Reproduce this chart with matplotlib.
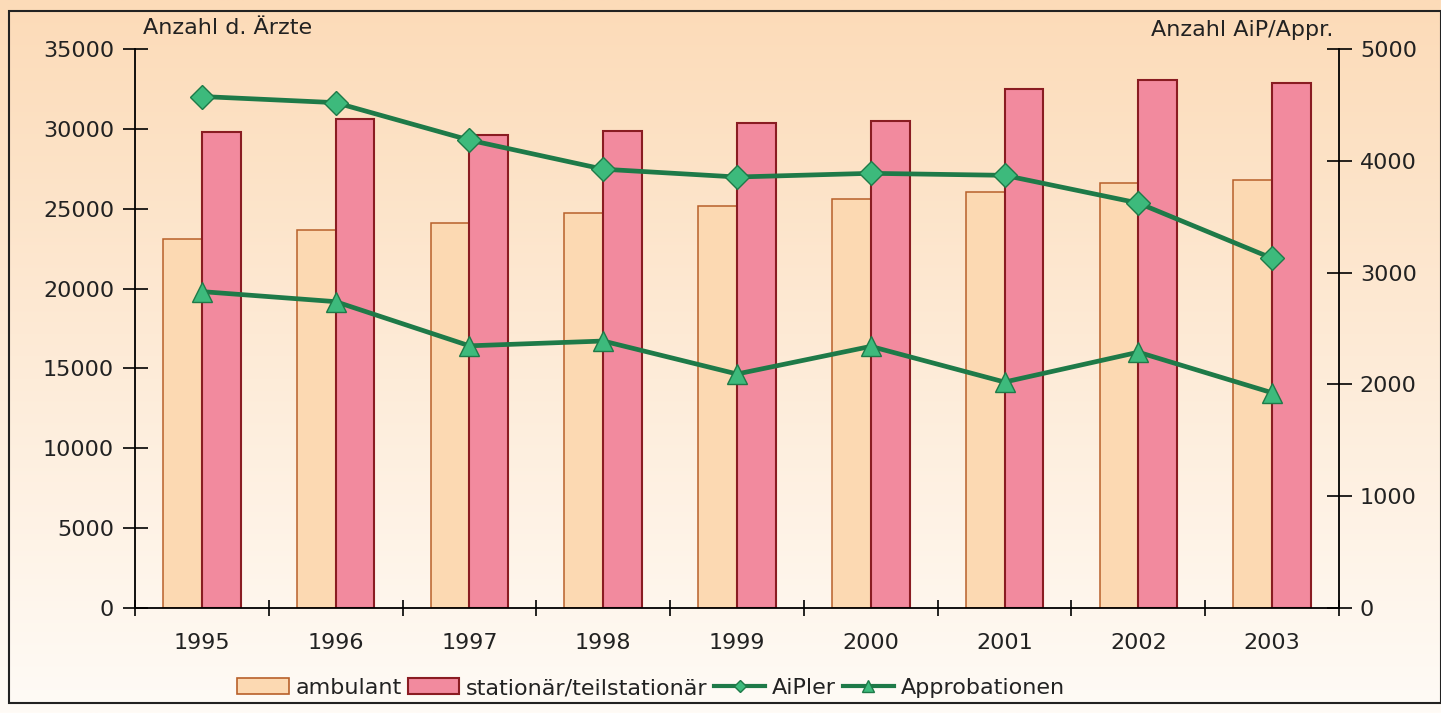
import matplotlib.pyplot as plt
import numpy as np
from matplotlib.patches import Rectangle
from matplotlib.lines import Line2D

plt.rcParams['font.family'] = ['DejaVu Sans']

years = ['1995', '1996', '1997', '1998', '1999', '2000', '2001', '2002', '2003']
ambulant = [23100, 23650, 24100, 24730, 25170, 25620, 26070, 26630, 26820]
stationaer = [29800, 30600, 29620, 29870, 30370, 30500, 32500, 33060, 32870]
aipler = [4575, 4520, 4185, 3925, 3855, 3888, 3870, 3622, 3128]
approbationen = [2830, 2740, 2345, 2388, 2093, 2340, 2021, 2288, 1925]

left_yticks = [0, 5000, 10000, 15000, 20000, 25000, 30000, 35000]
right_yticks = [0, 1000, 2000, 3000, 4000, 5000]

amb_face, amb_edge = '#FCD9B2', '#B8602A'
sta_face, sta_edge = '#F28A9E', '#8A1C22'
line_col, mark_col = '#1E7A48', '#3DBA7C'
fs = 16

fig = plt.figure(figsize=(14.41, 7.13), dpi=100)

# background gradient (peach -> white)
bg = fig.add_axes([0, 0, 1, 1], zorder=-10)
top = np.array([252, 219, 184]) / 255
bot = np.array([255, 251, 246]) / 255
t = np.linspace(0, 1, 256)[:, None]
grad = top * (1 - t) + bot * t
bg.imshow(grad[:, None, :].repeat(2, axis=1), aspect='auto', extent=[0, 1, 0, 1])
bg.set_axis_off()
# frame
fig.patches.append(Rectangle((9 / 1441, 10 / 713), 1 - 9 / 1441, 1 - 21 / 713,
                             transform=fig.transFigure, fill=False,
                             edgecolor='#222222', lw=1.5, zorder=5))

ax = fig.add_axes([135 / 1441, 1 - 608 / 713, (1339 - 135) / 1441, (608 - 49) / 713])
ax.patch.set_visible(False)
x = np.arange(len(years))
w = 0.29
ax.bar(x - w, ambulant, width=w, align='edge', color=amb_face, edgecolor=amb_edge, lw=1.1, zorder=2)
ax.bar(x, stationaer, width=w, align='edge', color=sta_face, edgecolor=sta_edge, lw=1.5, zorder=2)
ax.set_xlim(-0.5, len(years) - 0.5)
ax.set_ylim(0, 35000)
ax.set_yticks(left_yticks)
ax.set_yticklabels([str(v) for v in left_yticks])
ax.set_xticks(x)
ax.set_xticklabels(years)
ax.set_xticks(np.arange(-0.5, len(years), 1), minor=True)
ax.tick_params(axis='x', which='major', length=0, pad=18, labelsize=fs, colors='#222222')
ax.tick_params(axis='x', which='minor', direction='inout', length=12, width=1.2)
ax.tick_params(axis='y', direction='inout', length=18, width=1.2, labelsize=fs, pad=6,
               labelcolor='#222222')
for s in ['top', 'right']:
    ax.spines[s].set_visible(False)
for s in ['left', 'bottom']:
    ax.spines[s].set_linewidth(1.3)

ax2 = ax.twinx()
ax2.set_ylim(0, 5000)
ax2.set_yticks(right_yticks)
ax2.set_yticklabels([str(v) for v in right_yticks])
ax2.tick_params(axis='y', direction='inout', length=18, width=1.2, labelsize=fs, pad=6,
                labelcolor='#222222')
for s in ['top', 'left', 'bottom']:
    ax2.spines[s].set_visible(False)
ax2.spines['right'].set_linewidth(1.3)
ax2.plot(x, aipler, color=line_col, lw=3.4, marker='D', ms=12,
         mfc=mark_col, mec=line_col, mew=1, zorder=3)
ax2.plot(x, approbationen, color=line_col, lw=3.4, marker='^', ms=14,
         mfc=mark_col, mec=line_col, mew=1, zorder=3)

fig.text(143 / 1441, 1 - 28 / 713, 'Anzahl d. Ärzte', fontsize=fs, va='center', ha='left',
         color='#222222')
fig.text(1333 / 1441, 1 - 30 / 713, 'Anzahl AiP/Appr.', fontsize=fs, va='center', ha='right',
         color='#222222')

handles = [
    Rectangle((0, 0), 1, 1, facecolor=amb_face, edgecolor=amb_edge, lw=1.2),
    Rectangle((0, 0), 1, 1, facecolor=sta_face, edgecolor=sta_edge, lw=1.5),
    Line2D([], [], color=line_col, lw=3, marker='D', ms=6, mfc=mark_col, mec=line_col),
    Line2D([], [], color=line_col, lw=3, marker='^', ms=8, mfc=mark_col, mec=line_col),
]
labels = ['ambulant', 'stationär/teilstationär', 'AiPler', 'Approbationen']
leg = fig.legend(handles, labels, loc='center', bbox_to_anchor=(651 / 1441, 1 - 688 / 713),
                 ncol=4, frameon=False, fontsize=fs, handlelength=2.3, handleheight=0.75,
                 handletextpad=0.3, columnspacing=0.3)
for txt in leg.get_texts():
    txt.set_color('#222222')

fig.savefig('out.png', dpi=100)
